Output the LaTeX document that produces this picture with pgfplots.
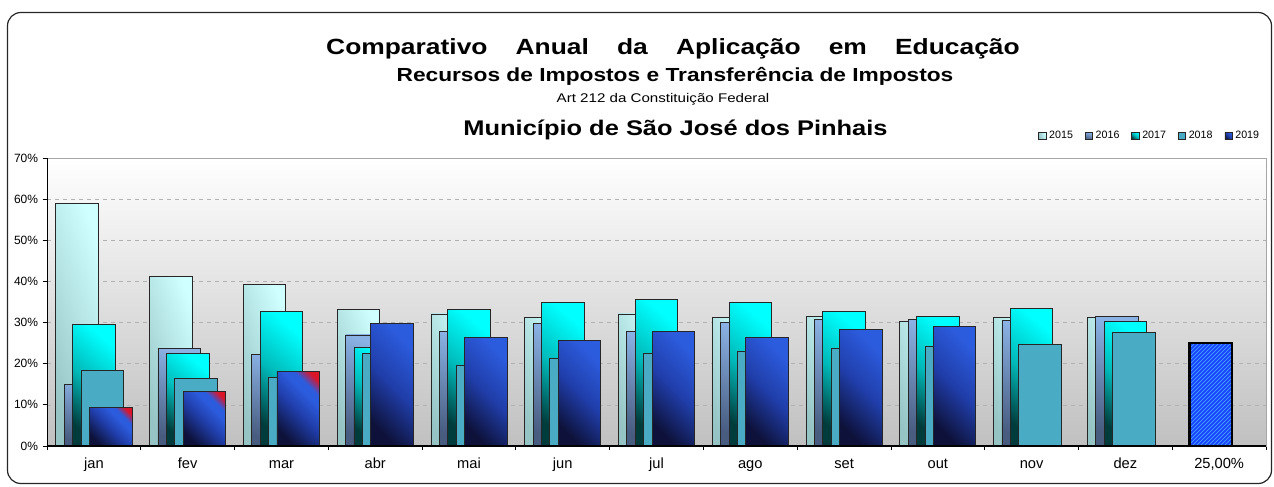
\documentclass[border=0pt]{standalone}
\usepackage{fontspec}
\setmainfont{Liberation Sans}
\usepackage{graphicx}
\usepackage{pgfplots}
\pgfplotsset{compat=1.18}
\usetikzlibrary{patterns}

\definecolor{t15}{RGB}{208,255,255}
\definecolor{b15}{RGB}{150,196,196}
\definecolor{t16}{RGB}{138,178,228}
\definecolor{b16}{RGB}{72,92,128}
\definecolor{t17}{RGB}{0,255,255}
\definecolor{m17}{RGB}{0,185,185}
\definecolor{b17}{RGB}{0,60,60}
\definecolor{c18}{RGB}{74,171,196}
\definecolor{n19}{RGB}{14,18,58}
\definecolor{m19}{RGB}{32,62,170}
\definecolor{b19}{RGB}{44,92,222}
\definecolor{r19}{RGB}{220,20,40}
\definecolor{f25}{RGB}{25,70,255}
\definecolor{p25}{RGB}{80,175,255}
\definecolor{bgb}{RGB}{192,192,192}

\pgfdeclareverticalshading{bluebar}{100bp}{color(0bp)=(n19); color(25bp)=(n19); color(50bp)=(m19); color(75bp)=(b19); color(100bp)=(b19)}
\pgfdeclareverticalshading{bluered}{100bp}{color(0bp)=(n19); color(25bp)=(n19); color(48bp)=(m19); color(64bp)=(b19); color(70bp)=(b19); color(79bp)=(r19); color(100bp)=(r19)}

\pgfplotsset{
  s15/.style={bar shift=-12.6pt, draw=black!85, line width=0.6pt, top color=t15, bottom color=b15, shading angle=-70},
  s16/.style={bar shift=-6.3pt, draw=black!85, line width=0.6pt, top color=t16, bottom color=b16, shading angle=-20},
  s17/.style={bar shift=0pt, draw=black!85, line width=0.6pt, top color=t17, bottom color=b17, middle color=m17, shading angle=-40},
  s18/.style={bar shift=6.3pt, draw=black!85, line width=0.6pt, fill=c18},
  s19/.style={bar shift=12.6pt, draw=black!85, line width=0.6pt, shade, shading=bluebar, shading angle=-45},
  s19r/.style={bar shift=12.6pt, draw=black!85, line width=0.6pt, shade, shading=bluered, shading angle=-45},
  s25/.style={bar shift=-6.3pt, draw=black, line width=1.6pt, fill=f25, postaction={pattern=north east lines, pattern color=p25}},
}
\newcommand\B[3]{\addplot[forget plot,#1] coordinates {(#2,#3)};}

\begin{document}
\begin{tikzpicture}
\useasboundingbox (0,0) rectangle (955.5pt,-364.5pt);
\begin{scope}[x=0.75pt,y=-0.75pt]
\draw[line width=0.9pt, black!85, rounded corners=10pt] (7.5,12.5) rectangle (1271.5,483.5);
\end{scope}
\begin{axis}[
  at={(35.25pt,-334.5pt)}, anchor=south west,
  scale only axis, width=914.25pt, height=216pt,
  xmin=-0.5, xmax=12.5, ymin=0, ymax=70,
  ybar, bar width=31.9pt,
  xtick={0,...,12},
  xticklabels={jan,fev,mar,abr,mai,jun,jul,ago,set,out,nov,dez,{25,00\%}},
  minor xtick={-0.5,0.5,...,12.5},
  ytick={0,10,...,70},
  yticklabels={0\%,10\%,20\%,30\%,40\%,50\%,60\%,70\%},
  tick pos=left, tick align=outside,
  major tick length=3.2pt, minor tick length=3.2pt,
  major x tick style={draw=none},
  minor x tick style={black, line width=0.6pt},
  major y tick style={black, line width=0.6pt},
  x tick label style={font=\fontsize{11pt}{13pt}\selectfont, text height=8pt, text depth=2.3pt, yshift=-2pt},
  y tick label style={font=\fontsize{9pt}{11pt}\selectfont},
  ymajorgrids, major grid style={dashed, gray!60, line width=0.5pt},
  axis line style={draw=gray!70, line width=0.6pt},
  axis background/.style={top color=white, bottom color=bgb},
  legend style={at={(0.9967,1.0764)}, anchor=east, draw=none, fill=none,
    font=\fontsize{8pt}{9pt}\selectfont, inner sep=0pt,
    /tikz/every even column/.append style={column sep=7pt}},
  legend columns=5,
  legend image code/.code={\draw[#1] (0pt,-2.8pt) rectangle (5.6pt,2.8pt);},
]
\addlegendimage{draw=black!85, line width=0.5pt, top color=t15, bottom color=b15, shading angle=-70}
\addlegendentry{2015}
\addlegendimage{draw=black!85, line width=0.5pt, top color=t16, bottom color=b16, shading angle=-20}
\addlegendentry{2016}
\addlegendimage{draw=black!85, line width=0.5pt, top color=t17, bottom color=b17, middle color=m17, shading angle=-40}
\addlegendentry{2017}
\addlegendimage{draw=black!85, line width=0.5pt, fill=c18}
\addlegendentry{2018}
\addlegendimage{draw=black!85, line width=0.5pt, shade, shading=bluebar, shading angle=-45}
\addlegendentry{2019}
% 2015
\B{s15}{0}{58.9} \B{s15}{1}{41.3} \B{s15}{2}{39.3} \B{s15}{3}{33.2}
\B{s15}{4}{32.1} \B{s15}{5}{31.2} \B{s15}{6}{32.1} \B{s15}{7}{31.2}
\B{s15}{8}{31.5} \B{s15}{9}{30.3} \B{s15}{10}{31.2} \B{s15}{11}{31.2}
% 2016
\B{s16}{0}{15.0} \B{s16}{1}{23.7} \B{s16}{2}{22.2} \B{s16}{3}{27.0}
\B{s16}{4}{27.8} \B{s16}{5}{29.8} \B{s16}{6}{27.8} \B{s16}{7}{30.1}
\B{s16}{8}{30.8} \B{s16}{9}{30.7} \B{s16}{10}{30.6} \B{s16}{11}{31.5}
% 2017
\B{s17}{0}{29.5} \B{s17}{1}{22.5} \B{s17}{2}{32.6} \B{s17}{3}{23.9}
\B{s17}{4}{33.2} \B{s17}{5}{34.9} \B{s17}{6}{35.7} \B{s17}{7}{34.9}
\B{s17}{8}{32.8} \B{s17}{9}{31.5} \B{s17}{10}{33.4} \B{s17}{11}{30.3}
% 2018
\B{s18}{0}{18.4} \B{s18}{1}{16.4} \B{s18}{2}{16.6} \B{s18}{3}{22.5}
\B{s18}{4}{19.7} \B{s18}{5}{21.4} \B{s18}{6}{22.5} \B{s18}{7}{23.1}
\B{s18}{8}{23.7} \B{s18}{9}{24.2} \B{s18}{10}{24.7} \B{s18}{11}{27.6}
% 2019
\B{s19r}{0}{9.4} \B{s19r}{1}{13.3} \B{s19r}{2}{18.2} \B{s19}{3}{29.8}
\B{s19}{4}{26.4} \B{s19}{5}{25.6} \B{s19}{6}{27.9} \B{s19}{7}{26.4}
\B{s19}{8}{28.4} \B{s19}{9}{29.0}
% 25%
\B{s25}{12}{25.0}
\draw[black, line width=0.9pt] (rel axis cs:0,1) -- (rel axis cs:0,0) -- (rel axis cs:1,0);
\end{axis}
\begin{scope}[x=0.75pt,y=-0.75pt]
\node[anchor=base, inner sep=0pt] at (673,54) {\scalebox{1.2}[1]{\fontsize{16.5pt}{18pt}\selectfont\bfseries\makebox[433.5pt][s]{Comparativo Anual da Aplicação em Educação}}};
\node[anchor=base, inner sep=0pt] at (675,81) {\scalebox{1.2}[1]{\fontsize{14.2pt}{16pt}\selectfont\bfseries Recursos de Impostos e Transferência de Impostos}};
\node[anchor=base, inner sep=0pt] at (663,102) {\scalebox{1.2}[1]{\fontsize{9.45pt}{11pt}\selectfont Art 212 da Constituição Federal}};
\node[anchor=base, inner sep=0pt] at (675.5,135) {\scalebox{1.2}[1]{\fontsize{15.9pt}{18pt}\selectfont\bfseries Município de São José dos Pinhais}};
\end{scope}
\end{tikzpicture}
\end{document}
